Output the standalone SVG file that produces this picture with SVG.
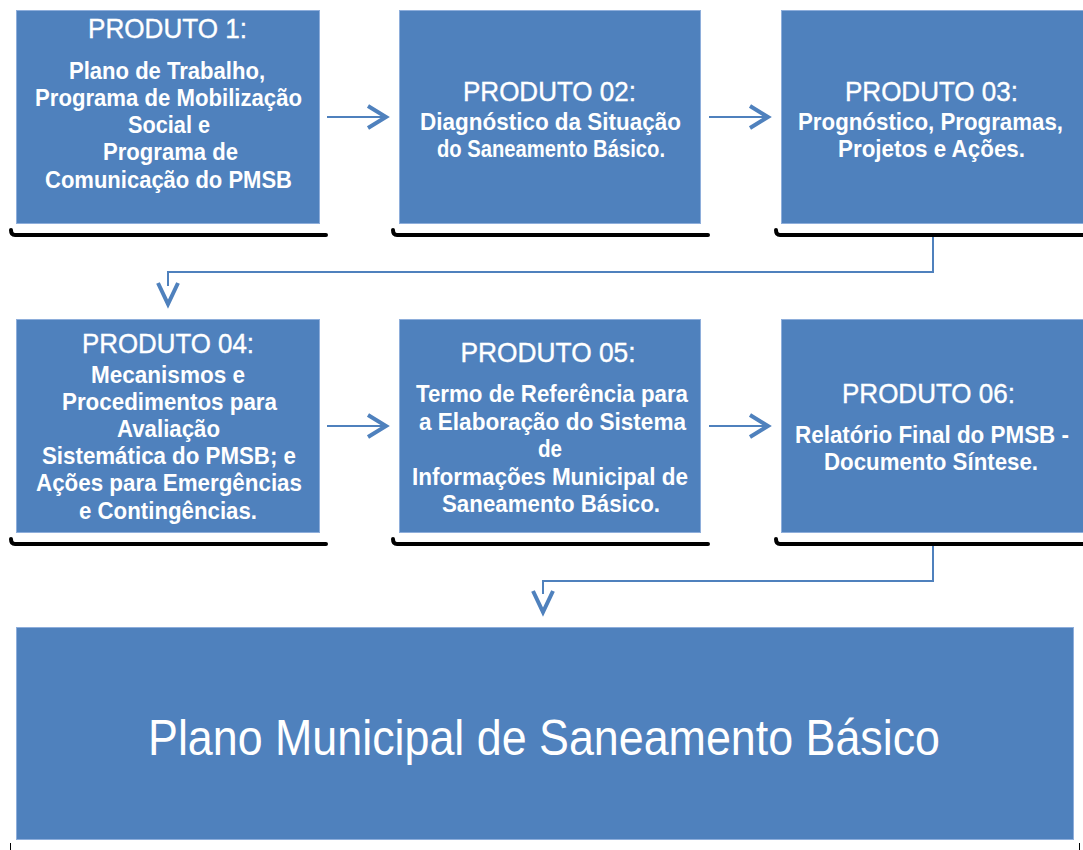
<svg xmlns="http://www.w3.org/2000/svg" width="1083" height="850" viewBox="0 0 1083 850">
<style>
.box{fill:#4F81BD;stroke:#8EAEDB;stroke-width:1}
.ul{fill:none;stroke:#000;stroke-width:4;stroke-linecap:round;stroke-linejoin:round}
.t{font-family:"Liberation Sans",Arial,sans-serif;fill:#fff;text-anchor:middle;font-size:28px;stroke:#fff;stroke-width:0.4}
.b{font-family:"Liberation Sans",Arial,sans-serif;fill:#fff;text-anchor:middle;font-size:23px;font-weight:bold}
.big{font-family:"Liberation Sans",Arial,sans-serif;fill:#fff;text-anchor:middle;font-size:50px}
.ln{fill:none;stroke:#4F81BD;stroke-width:2}
.ch{fill:none;stroke:#4F81BD;stroke-width:4;stroke-linejoin:miter}
</style>
<rect width="1083" height="850" fill="#fff"/>
<g id="p1">
<rect class="box" x="16.5" y="10.5" width="303" height="213"/>
<path class="ul" d="M11,230 Q11,235 15,235 L326,235"/>
<text class="t" x="167.5" y="38" textLength="159" lengthAdjust="spacingAndGlyphs">PRODUTO 1:</text>
<text class="b" x="167" y="79" textLength="196" lengthAdjust="spacingAndGlyphs">Plano de Trabalho,</text>
<text class="b" x="168.5" y="106" textLength="267" lengthAdjust="spacingAndGlyphs">Programa de Mobilização</text>
<text class="b" x="169" y="133" textLength="82" lengthAdjust="spacingAndGlyphs">Social e</text>
<text class="b" x="170.5" y="160" textLength="135" lengthAdjust="spacingAndGlyphs">Programa de</text>
<text class="b" x="168.5" y="188" textLength="247" lengthAdjust="spacingAndGlyphs">Comunicação do PMSB</text>
</g>
<g id="p2">
<rect class="box" x="399.5" y="10.5" width="301" height="213"/>
<path class="ul" d="M393,230 Q393,235 397,235 L708,235"/>
<text class="t" x="549.5" y="101" textLength="173" lengthAdjust="spacingAndGlyphs">PRODUTO 02:</text>
<text class="b" x="550.5" y="130" textLength="261" lengthAdjust="spacingAndGlyphs">Diagnóstico da Situação</text>
<text class="b" x="551" y="157" textLength="228" lengthAdjust="spacingAndGlyphs">do Saneamento Básico.</text>
</g>
<g id="p3">
<rect class="box" x="781.5" y="10.5" width="302" height="213"/>
<path class="ul" d="M776,230 Q776,235 780,235 L1083,235"/>
<text class="t" x="931.5" y="101" textLength="173" lengthAdjust="spacingAndGlyphs">PRODUTO 03:</text>
<text class="b" x="930.5" y="130" textLength="265" lengthAdjust="spacingAndGlyphs">Prognóstico, Programas,</text>
<text class="b" x="931.5" y="157" textLength="187" lengthAdjust="spacingAndGlyphs">Projetos e Ações.</text>
</g>
<g id="p4">
<rect class="box" x="16.5" y="319.5" width="303" height="213"/>
<path class="ul" d="M11,539 Q11,544 15,544 L326,544"/>
<text class="t" x="168" y="353" textLength="172" lengthAdjust="spacingAndGlyphs">PRODUTO 04:</text>
<text class="b" x="168" y="383" textLength="154" lengthAdjust="spacingAndGlyphs">Mecanismos e</text>
<text class="b" x="169.5" y="410" textLength="215" lengthAdjust="spacingAndGlyphs">Procedimentos para</text>
<text class="b" x="168.5" y="437" textLength="103" lengthAdjust="spacingAndGlyphs">Avaliação</text>
<text class="b" x="169" y="464" textLength="254" lengthAdjust="spacingAndGlyphs">Sistemática do PMSB; e</text>
<text class="b" x="169" y="491" textLength="266" lengthAdjust="spacingAndGlyphs">Ações para Emergências</text>
<text class="b" x="168" y="519" textLength="178" lengthAdjust="spacingAndGlyphs">e Contingências.</text>
</g>
<g id="p5">
<rect class="box" x="399.5" y="319.5" width="301" height="213"/>
<path class="ul" d="M393,539 Q393,544 397,544 L708,544"/>
<text class="t" x="548" y="362" textLength="175" lengthAdjust="spacingAndGlyphs">PRODUTO 05:</text>
<text class="b" x="552" y="402" textLength="272" lengthAdjust="spacingAndGlyphs">Termo de Referência para</text>
<text class="b" x="552.5" y="430" textLength="267" lengthAdjust="spacingAndGlyphs">a Elaboração do Sistema</text>
<text class="b" x="550" y="457" textLength="24" lengthAdjust="spacingAndGlyphs">de</text>
<text class="b" x="550" y="485" textLength="276" lengthAdjust="spacingAndGlyphs">Informações Municipal de</text>
<text class="b" x="551" y="512" textLength="218" lengthAdjust="spacingAndGlyphs">Saneamento Básico.</text>
</g>
<g id="p6">
<rect class="box" x="781.5" y="319.5" width="302" height="213"/>
<path class="ul" d="M776,539 Q776,544 780,544 L1083,544"/>
<text class="t" x="928.5" y="403" textLength="173" lengthAdjust="spacingAndGlyphs">PRODUTO 06:</text>
<text class="b" x="932" y="443" textLength="274" lengthAdjust="spacingAndGlyphs">Relatório Final do PMSB -</text>
<text class="b" x="931" y="470" textLength="214" lengthAdjust="spacingAndGlyphs">Documento Síntese.</text>
</g>
<g id="plan">
<rect class="box" x="16.5" y="627.5" width="1057" height="212"/>
<path d="M10.5,843 L10.5,850 M1079.5,843 L1079.5,850" stroke="#000" stroke-width="1"/>
<text class="big" x="544" y="755" textLength="792" lengthAdjust="spacingAndGlyphs">Plano Municipal de Saneamento Básico</text>
</g>
<g id="connectors">
<path class="ln" d="M327,117 L386,117"/>
<path class="ch" d="M368,106 L386,117 L368,128"/>
<path class="ln" d="M709,117 L768,117"/>
<path class="ch" d="M750,106 L768,117 L750,128"/>
<path class="ln" d="M327,426 L386,426"/>
<path class="ch" d="M368,415 L386,426 L368,437"/>
<path class="ln" d="M709,426 L768,426"/>
<path class="ch" d="M750,415 L768,426 L750,437"/>
<path class="ln" d="M933,237 L933,272 L168,272 L168,286"/>
<path class="ch" d="M158,283 L168,304 L178,283"/>
<path class="ln" d="M933,546 L933,581 L543,581 L543,594"/>
<path class="ch" d="M533,591 L543,612 L553,591"/>
</g>
</svg>
